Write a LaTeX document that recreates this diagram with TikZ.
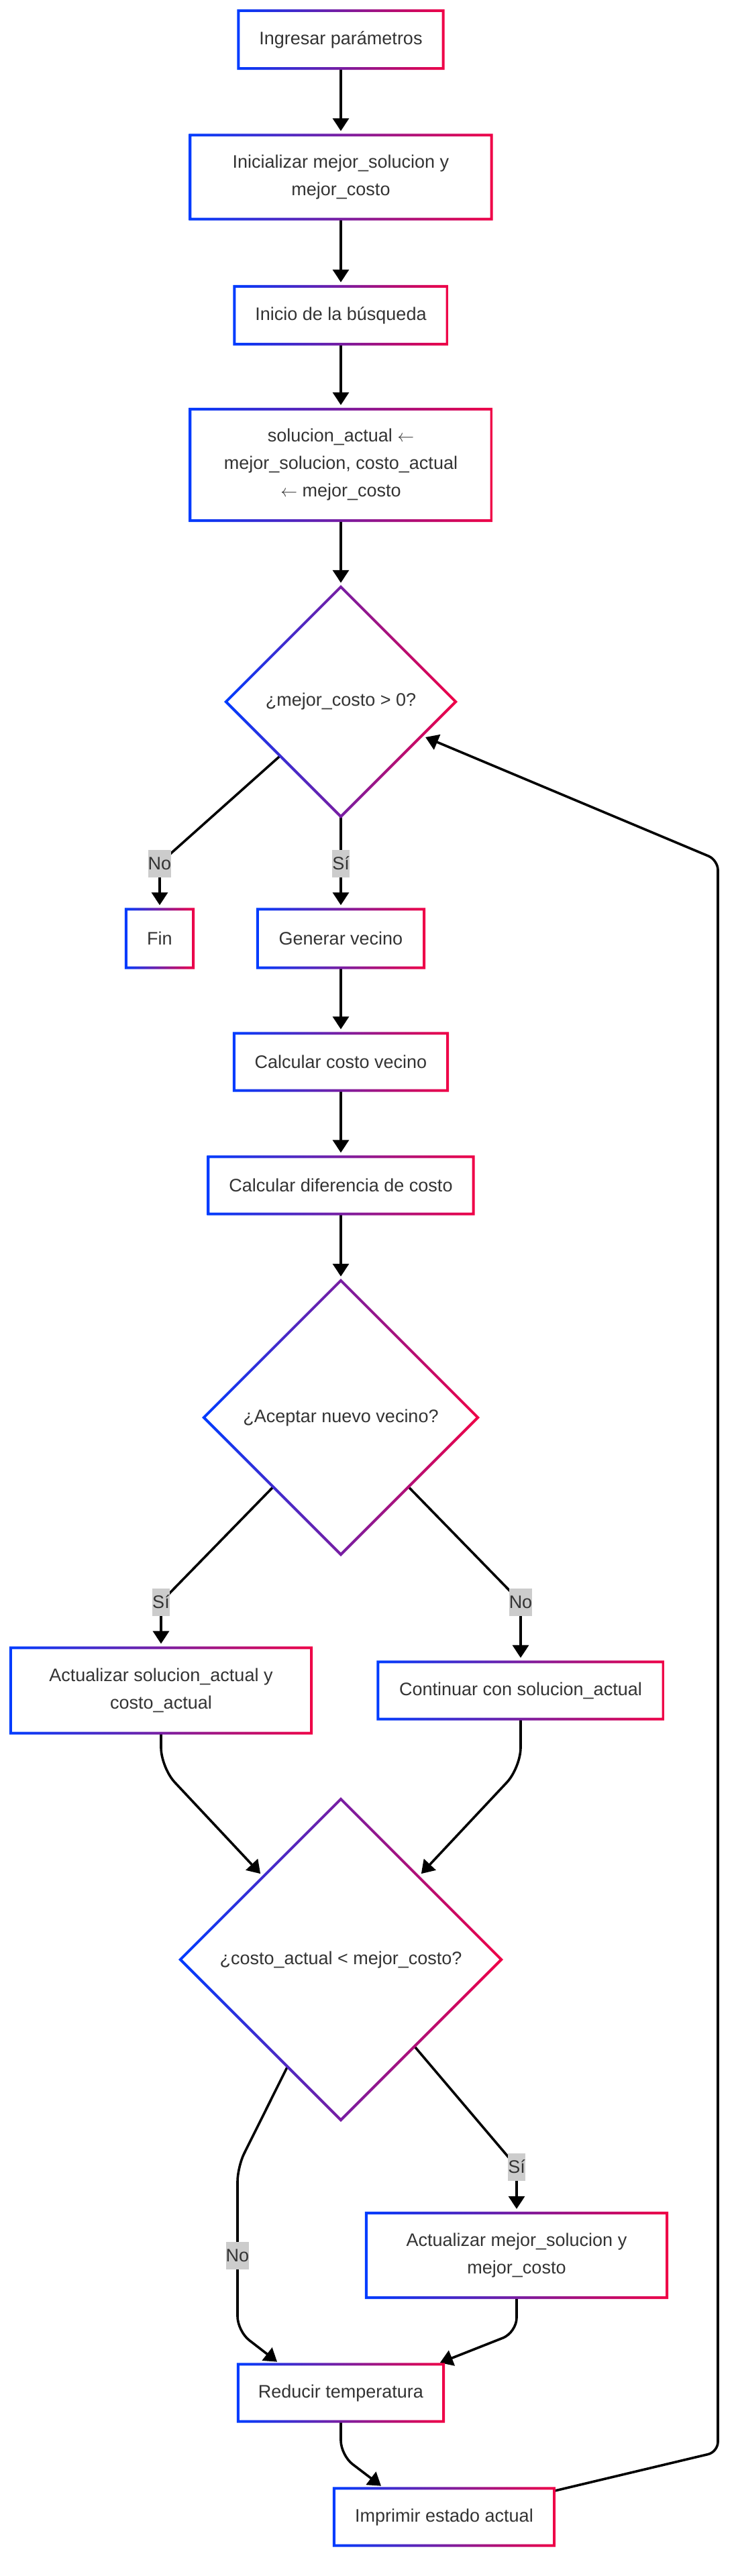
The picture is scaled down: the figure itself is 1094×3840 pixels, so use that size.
\documentclass[tikz,border=0pt]{standalone}
\usepackage{fontspec}
\setmainfont{Liberation Sans}
\usetikzlibrary{shapes.geometric,arrows.meta,backgrounds,calc}
\definecolor{gblue}{RGB}{0,60,255}
\definecolor{gred}{RGB}{240,0,70}
\definecolor{txtc}{RGB}{51,51,51}
\definecolor{lblgray}{RGB}{204,204,204}
\newcommand\gradrect[1]{%
  \shade[even odd rule, left color=gblue, right color=gred]
    ($(#1.north west)+(-2,-2)$) rectangle ($(#1.south east)+(2,2)$)
    ($(#1.north west)+(2,2)$) rectangle ($(#1.south east)+(-2,-2)$);}
\newcommand\graddiam[1]{%
  \shade[even odd rule, left color=gblue, right color=gred]
    ($(#1.north)+(0,-2.8)$) -- ($(#1.east)+(2.8,0)$) -- ($(#1.south)+(0,2.8)$) -- ($(#1.west)+(-2.8,0)$) -- cycle
    ($(#1.north)+(0,2.8)$) -- ($(#1.east)+(-2.8,0)$) -- ($(#1.south)+(0,-2.8)$) -- ($(#1.west)+(2.8,0)$) -- cycle;}
\tikzset{
  every node/.style={font=\fontsize{27}{41}\selectfont, text=txtc},
  box/.style={rectangle, inner sep=0pt, align=center},
  dia/.style={diamond, aspect=1, inner sep=0pt, align=center},
  lbl/.style={fill=lblgray, inner xsep=0pt, inner ysep=0pt, minimum height=41pt},
  flow/.style={line width=3.6pt, draw=black, -{Triangle[length=19pt,width=24pt]}, shorten >=6pt},
}
\begin{document}
\begin{tikzpicture}[x=1pt,y=-1pt]
\useasboundingbox (0,0) rectangle (1094,3840);
% nodes
\node[box, minimum width=305pt, minimum height=86pt] (n1) at (508,59) {Ingresar parámetros};
\node[box, minimum width=449pt, minimum height=125pt] (n2) at (508,264) {Inicializar mejor\_solucion y\\mejor\_costo};
\node[box, minimum width=317pt, minimum height=86pt] (n3) at (508,470) {Inicio de la búsqueda};
\node[box, minimum width=449pt, minimum height=166pt] (n4) at (508,693) {solucion\_actual $\leftarrow$\\mejor\_solucion, costo\_actual\\$\leftarrow$ mejor\_costo};
\node[dia, minimum width=342pt, minimum height=342pt] (d1) at (508,1046) {¿mejor\_costo > 0?};
\node[box, minimum width=100pt, minimum height=87pt] (fin) at (238,1399) {Fin};
\node[box, minimum width=248pt, minimum height=87pt] (gen) at (508,1399) {Generar vecino};
\node[box, minimum width=318pt, minimum height=85pt] (ccv) at (508,1583) {Calcular costo vecino};
\node[box, minimum width=395pt, minimum height=85pt] (cdc) at (508,1767) {Calcular diferencia de costo};
\node[dia, minimum width=408pt, minimum height=408pt] (d2) at (508,2113) {¿Aceptar nuevo vecino?};
\node[box, minimum width=448pt, minimum height=127pt] (asa) at (240,2520) {Actualizar solucion\_actual y\\costo\_actual};
\node[box, minimum width=425pt, minimum height=85pt] (csa) at (776,2520) {Continuar con solucion\_actual};
\node[dia, minimum width=478pt, minimum height=478pt] (d3) at (508,2921) {¿costo\_actual < mejor\_costo?};
\node[box, minimum width=448pt, minimum height=126pt] (amb) at (770,3362) {Actualizar mejor\_solucion y\\mejor\_costo};
\node[box, minimum width=306pt, minimum height=85pt] (rt) at (508,3567) {Reducir temperatura};
\node[box, minimum width=328pt, minimum height=85pt] (iea) at (662,3752) {Imprimir estado actual};
% edge labels
\node[lbl] (l1) at (238,1287) {No};
\node[lbl] (s1) at (508,1287) {Sí};
\node[lbl] (s2) at (240,2388) {Sí};
\node[lbl] (l2) at (776,2388) {No};
\node[lbl] (s3) at (770,3230) {Sí};
\node[lbl] (l3) at (354,3362) {No};
% helper coordinates
\coordinate (c1) at (240,2635);
\coordinate (c2) at (776,2635);
\coordinate (c3) at (354,3230);
\coordinate (c4) at (354,3475);
\coordinate (e1) at ([xshift=63pt]rt.north west);
\coordinate (c5) at (770,3477);
\coordinate (e2) at ([xshift=-11pt]rt.north east);
\coordinate (c6) at (508,3660);
\coordinate (e3) at ([xshift=75pt]iea.north west);
\coordinate (c7) at (1070,3655);
\coordinate (c8) at (1070,1282);
% connectors
\begin{scope}[on background layer]
\draw[flow] (n1) -- (n2);
\draw[flow] (n2) -- (n3);
\draw[flow] (n3) -- (n4);
\draw[flow] (n4) -- (d1);
\draw[flow, rounded corners=15pt] (d1) -- (l1.center) -- (fin);
\draw[flow] (d1) -- (s1.center) -- (gen);
\draw[flow] (gen) -- (ccv);
\draw[flow] (ccv) -- (cdc);
\draw[flow] (cdc) -- (d2);
\draw[flow, rounded corners=15pt] (d2) -- (s2.center) -- (asa);
\draw[flow, rounded corners=15pt] (d2) -- (l2.center) -- (csa);
\draw[flow, rounded corners=30pt] (asa) -- (c1) -- (d3);
\draw[flow, rounded corners=30pt] (csa) -- (c2) -- (d3);
\draw[flow, rounded corners=15pt] (d3) -- (s3.center) -- (amb);
\draw[flow, rounded corners=22pt] (d3) -- (c3) -- (l3.center) -- (c4) -- (e1);
\draw[flow, rounded corners=22pt] (amb) -- (c5) -- (e2);
\draw[flow, rounded corners=22pt] (rt) -- (c6) -- (e3);
\draw[flow, rounded corners=15pt] (iea) -- (c7) -- (c8) -- (d1);
\end{scope}
% gradient borders
\gradrect{n1}
\gradrect{n2}
\gradrect{n3}
\gradrect{n4}
\graddiam{d1}
\gradrect{fin}
\gradrect{gen}
\gradrect{ccv}
\gradrect{cdc}
\graddiam{d2}
\gradrect{asa}
\gradrect{csa}
\graddiam{d3}
\gradrect{amb}
\gradrect{rt}
\gradrect{iea}
\end{tikzpicture}
\end{document}
